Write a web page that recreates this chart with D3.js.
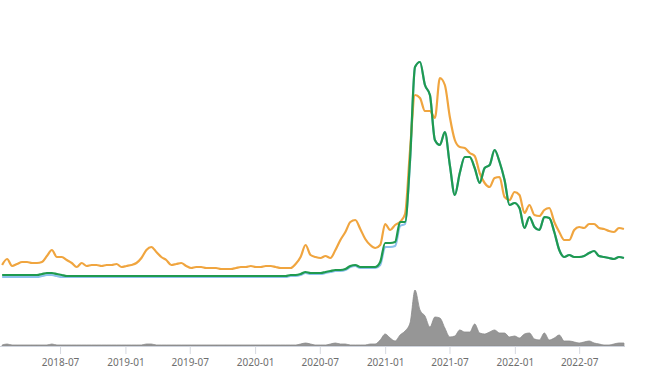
<!DOCTYPE html>
<html>
<head>
<meta charset="utf-8">
<script src="https://cdn.jsdelivr.net/npm/d3@7"></script>
<style>
  html, body { margin: 0; padding: 0; background: #fff; }
  svg { display: block; }
</style>
</head>
<body>
<div id="chart"></div>
<script>
// samples every 14 days starting at startDate
const startDate = "2018-01-19";
const stepDays = 14;
const xDomain = ["2018-01-13", "2022-11-07"];
const tickLabels = ["2018-07", "2019-01", "2019-07", "2020-01", "2020-07",
                    "2021-01", "2021-07", "2022-01", "2022-07"];

const orangeSeries = [
  20, 26, 19, 21, 23, 23, 22, 22, 23, 29, 35, 28, 28, 25, 22, 18, 22, 19, 20, 20,
  19, 20, 20, 21, 18, 19, 20, 22, 27, 35, 38, 33, 28, 25, 20, 21, 22, 19, 17, 18,
  18, 17, 17, 17, 16, 16, 16, 17, 18, 18, 19, 18, 18, 19, 19, 18, 17, 17, 17, 21,
  28, 40, 30, 28, 27, 29, 27, 35, 45, 53, 63, 65, 56, 46, 40, 37, 40, 61, 55, 60,
  63, 71, 135, 190, 187, 174, 174, 167, 207, 200, 168, 145, 138, 137, 132, 129, 112, 102, 98, 107,
  108, 88, 85, 93, 90, 72, 80, 70, 69, 75, 77, 63, 53, 45, 45, 55, 58, 57, 61, 61,
  57, 56, 54, 53, 57, 56
];

const greenSeries = [
  10, 10, 10, 10, 10, 10, 10, 10, 11, 12, 12, 11, 10, 9, 9, 9, 9, 9, 9, 9,
  9, 9, 9, 9, 9, 9, 9, 9, 9, 9, 9, 9, 9, 9, 9, 9, 9, 9, 9, 9,
  9, 9, 9, 9, 9, 9, 9, 9, 9, 9, 9, 9, 9, 9, 9, 9, 9, 9, 10, 10,
  11, 13, 12, 12, 12, 13, 14, 15, 15, 16, 19, 20, 18, 18, 18, 18, 23, 42, 42, 43,
  63, 63, 125, 218, 223, 200, 190, 145, 140, 153, 120, 90, 112, 128, 128, 117, 102, 117, 120, 135,
  123, 105, 80, 82, 77, 57, 68, 58, 55, 68, 67, 53, 35, 28, 30, 28, 28, 29, 32, 34,
  29, 28, 27, 26, 28, 27
];

const blueSeries = [
  8, 8, 8, 8, 8, 8, 8, 8, 9, 10, 10, 9, 8, 8, 8, 8, 8, 8, 8, 8,
  8, 8, 8, 8, 8, 8, 8, 8, 8, 8, 8, 8, 8, 8, 8, 8, 8, 8, 8, 8,
  8, 8, 8, 8, 8, 8, 8, 8, 8, 8, 8, 8, 8, 8, 8, 8, 8, 8, 9, 9,
  10, 12, 11, 11, 11, 12, 13, 14, 14, 15, 18, 19, 17, 17, 17, 17, 20, 38, 38, 39,
  59, 61, 123, 218, 223, 200, 190, 145, 140, 153, 120, 90, 112, 128, 128, 117, 102, 117, 120, 135,
  123, 105, 80, 82, 77, 57, 68, 58, 55, 68, 67, 53, 35, 28, 30, 28, 28, 29, 32, 34,
  29, 28, 27, 26, 28, 27
];

const volumeSeries = [
  1, 2, 1, 1, 1, 1, 1, 1, 1, 1, 2, 1, 1, 1, 1, 1, 1, 1, 1, 1,
  1, 1, 1, 1, 1, 1, 1, 1, 1, 2, 2, 1, 1, 1, 1, 1, 1, 1, 1, 1,
  1, 1, 1, 1, 1, 1, 1, 1, 1, 1, 1, 1, 1, 1, 1, 1, 1, 1, 1, 1,
  2, 3, 2, 1, 1, 1, 2, 3, 2, 2, 1, 1, 1, 1, 2, 2, 6, 12, 8, 5,
  11, 15, 23, 56, 36, 30, 19, 29, 28, 18, 9, 10, 16, 14, 14, 22, 13, 12, 14, 16,
  13, 13, 9, 10, 8, 12, 13, 7, 6, 13, 6, 8, 11, 5, 5, 4, 3, 4, 5, 3,
  2, 1, 1, 2, 3, 3
];

const width = 650, height = 388;
const plotLeft = 0, plotRight = 625;
const mainTop = 35, mainBottom = 285;
const volTop = 286, axisY = 346;

const parse = d3.timeParse("%Y-%m-%d");
const start = parse(startDate);
const dates = orangeSeries.map((_, i) => d3.timeDay.offset(start, i * stepDays));

const x = d3.scaleTime()
    .domain(xDomain.map(parse))
    .range([plotLeft, plotRight]);

const yMain = d3.scaleLinear()
    .domain([0, 250])
    .range([mainBottom, mainTop]);

const yVol = d3.scaleLinear()
    .domain([0, 60])
    .range([axisY, volTop]);

const svg = d3.select("#chart").append("svg")
    .attr("width", width)
    .attr("height", height);

// volume area
const area = d3.area()
    .x((d, i) => x(dates[i]))
    .y0(axisY)
    .y1(d => yVol(d))
    .curve(d3.curveMonotoneX);

svg.append("path")
    .datum(volumeSeries)
    .attr("d", area)
    .attr("fill", "#969696")
    .attr("stroke", "#8a8a8a")
    .attr("stroke-width", 0.8);

// axis
const tickDates = tickLabels.map(t => parse(t + "-01"));
const axis = svg.append("g")
    .attr("transform", `translate(0, ${axisY})`)
    .call(d3.axisBottom(x)
        .tickValues(tickDates)
        .tickFormat((d, i) => tickLabels[i])
        .tickSize(8)
        .tickSizeOuter(0)
        .tickPadding(5));

axis.select(".domain")
    .attr("stroke", "#cfd4de")
    .attr("d", `M${plotLeft},0.5H${plotRight}`);
axis.selectAll(".tick line").attr("stroke", "#d6d9e0");
axis.selectAll(".tick text")
    .attr("fill", "#6e6e6e")
    .style("font-family", "'Noto Sans', sans-serif")
    .style("font-size", "10px");

// price lines
const line = d3.line()
    .x((d, i) => x(dates[i]))
    .y(d => yMain(d))
    .curve(d3.curveMonotoneX);

const lineSeries = [
  { name: "blue", values: blueSeries, color: "#8cc0ec" },
  { name: "orange", values: orangeSeries, color: "#f0a53f" },
  { name: "green", values: greenSeries, color: "#1f9a4f" }
];

svg.selectAll(".series")
    .data(lineSeries)
    .join("path")
    .attr("class", "series")
    .attr("d", d => line(d.values))
    .attr("fill", "none")
    .attr("stroke", d => d.color)
    .attr("stroke-width", 2.2)
    .attr("stroke-linejoin", "round");
</script>
</body>
</html>
